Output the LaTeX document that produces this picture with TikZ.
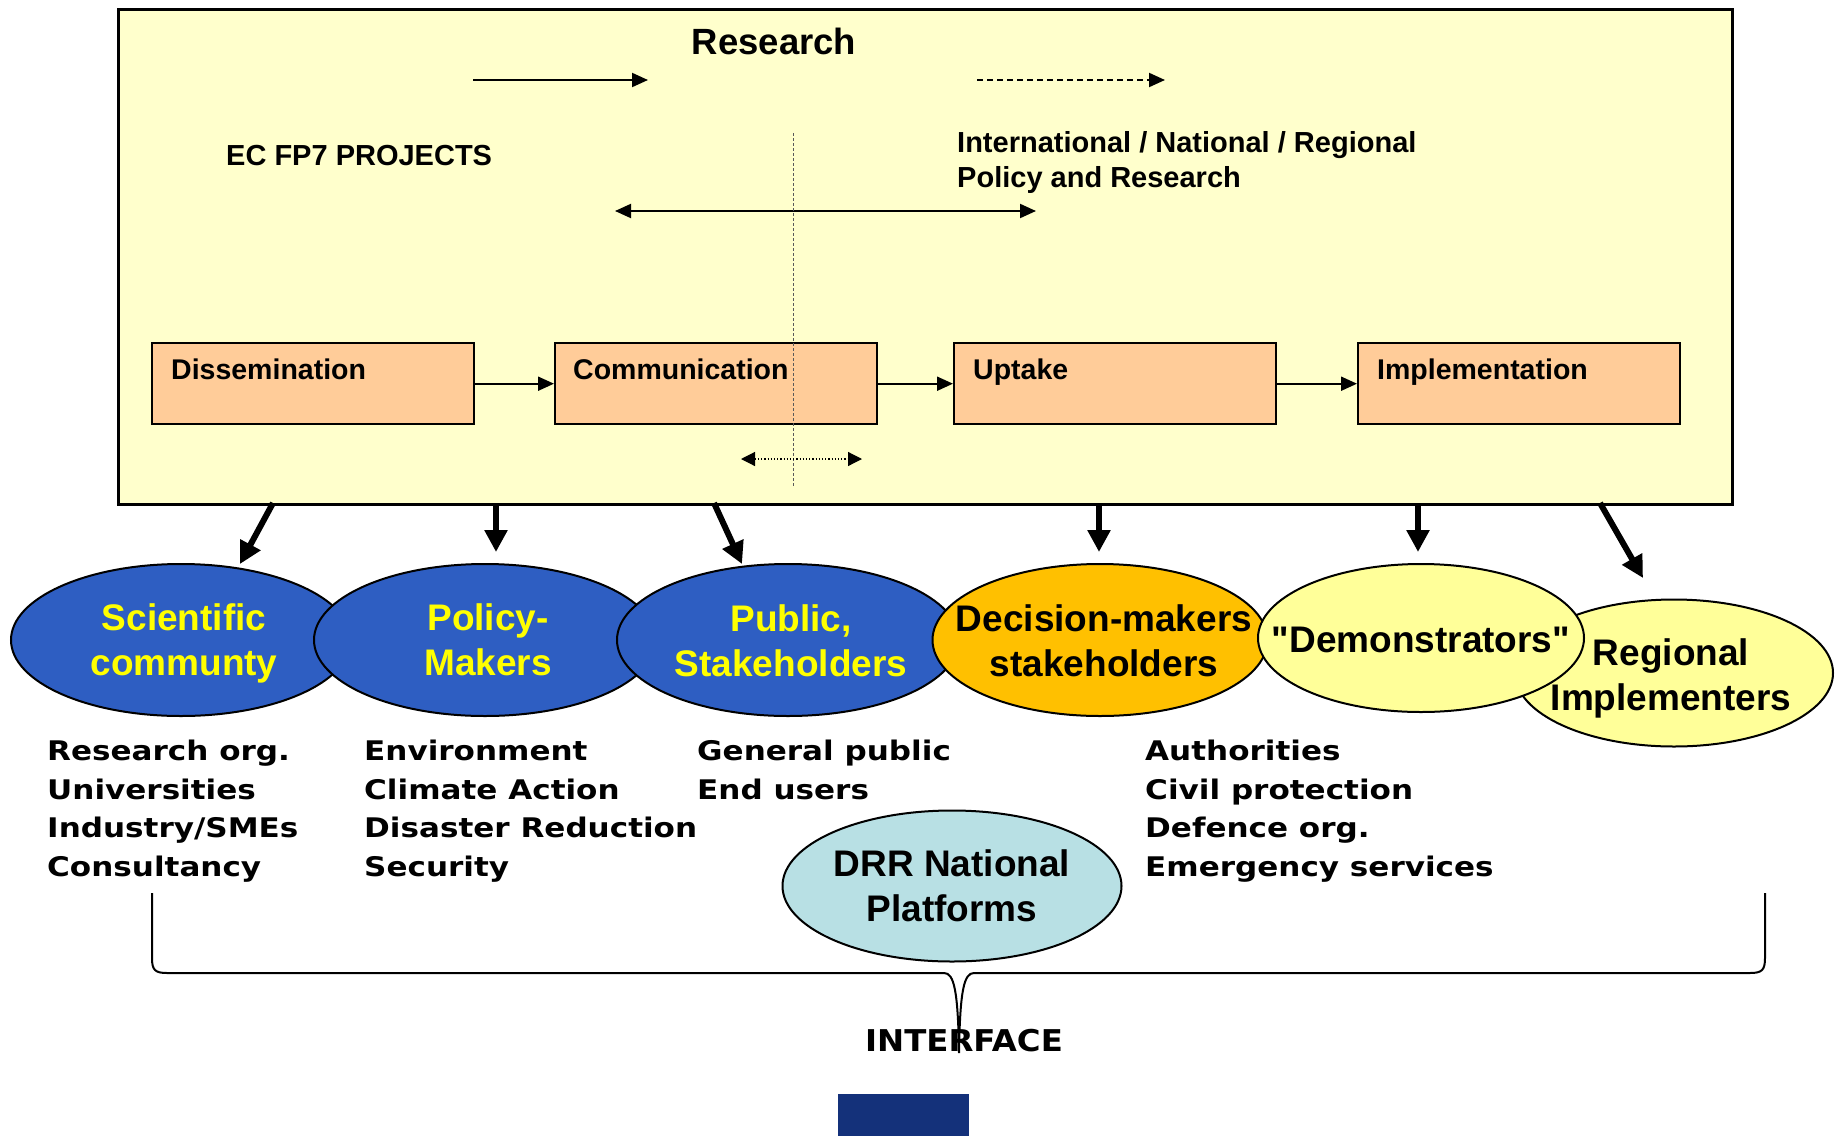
\documentclass[tikz,border=0pt]{standalone}
\usepackage{fontspec}
\setmainfont{Liberation Sans}
\newfontfamily\demofont{Liberation Sans}[Ligatures=TeXOff]
\newfontfamily\listfont{DejaVu Sans}[FakeStretch=1.15]
\newfontfamily\ifacefont{DejaVu Sans}[FakeStretch=1.08]
\usetikzlibrary{arrows.meta,shapes.geometric}
\definecolor{frameyellow}{RGB}{255,255,204}
\definecolor{boxorange}{RGB}{255,204,153}
\definecolor{ellblue}{RGB}{46,94,194}
\definecolor{ellorange}{RGB}{255,192,0}
\definecolor{elllight}{RGB}{255,255,153}
\definecolor{drrcyan}{RGB}{184,224,228}
\definecolor{navyblock}{RGB}{20,49,122}
\definecolor{txtyellow}{RGB}{255,255,0}
\begin{document}
\begin{tikzpicture}[x=1pt,y=-1pt,
  stagebox/.style={draw=black,line width=2.4pt,fill=boxorange,minimum width=322pt,minimum height=81pt,inner sep=0pt,anchor=north west},
  stagelabel/.style={anchor=base west,inner sep=0pt,font=\fontsize{28.5}{34}\selectfont\bfseries},
  headtext/.style={anchor=base west,inner sep=0pt,align=left,font=\fontsize{29}{35}\selectfont\bfseries},
  thinarrow/.style={line width=2pt,-{Triangle[length=16pt,width=14pt]}},
  thickarrow/.style={line width=6pt,-{Triangle[length=22pt,width=22pt]}},
  group/.style={ellipse,draw=black,line width=2pt,inner sep=0pt},
  grouptext/.style={inner sep=0pt,align=center,font=\fontsize{37}{45}\selectfont\bfseries},
  listtext/.style={anchor=north west,inner sep=0pt,align=left,font=\listfont\fontsize{27}{38.5}\selectfont\bfseries},
]
\useasboundingbox (0,0) rectangle (1836,1135);

% outer frame
\node[draw=black,fill=frameyellow,line width=2.5pt,minimum width=1614pt,minimum height=495pt,anchor=north west,inner sep=0pt] (frame) at (117,8) {};

% header texts
\node[anchor=base,inner sep=0pt,font=\fontsize{36.5}{40}\selectfont\bfseries] (research) at (774,54) {Research};
\node[headtext] (ecfp) at (226,165) {EC FP7 PROJECTS};
\node[headtext] (intl) at (957,187) {International / National / Regional\\Policy and Research};

% header arrows
\coordinate (ra1) at (473,80);
\coordinate (ra2) at (648,80);
\coordinate (rb1) at (977,80);
\coordinate (rb2) at (1165,80);
\coordinate (rc1) at (615,211);
\coordinate (rc2) at (1036,211);
\draw[thinarrow] (ra1) -- (ra2);
\draw[thinarrow,dash pattern=on 6pt off 4pt] (rb1) -- (rb2);
\draw[line width=2pt,{Triangle[length=16pt,width=14pt]}-{Triangle[length=16pt,width=14pt]}] (rc1) -- (rc2);

% stage boxes
\node[stagebox] (diss) at (151,342) {};
\node[stagebox] (comm) at (554,342) {};
\node[stagebox] (upt) at (953,342) {};
\node[stagebox] (impl) at (1357,342) {};
\node[stagelabel] (dissl) at (171,379) {Dissemination};
\node[stagelabel] (comml) at (573,379) {Communication};
\node[stagelabel] (uptl) at (973,379) {Uptake};
\node[stagelabel] (impll) at (1377,379) {Implementation};
\draw[thinarrow] (diss.east) -- (comm.west);
\draw[thinarrow] (comm.east) -- (upt.west);
\draw[thinarrow] (upt.east) -- (impl.west);

% dotted guides
\coordinate (vt) at (793,133);
\coordinate (vb) at (793,487);
\draw[gray!70!black,line width=0.9pt,dash pattern=on 3pt off 2pt] (vt) -- (vb);
\coordinate (da1) at (741,459);
\coordinate (da2) at (862,459);
\draw[line width=1.2pt,dotted,{Triangle[length=14pt,width=14pt]}-{Triangle[length=14pt,width=14pt]}] (da1) -- (da2);

% thick arrows
\coordinate (s1) at (273,503); \coordinate (e1) at (240,564);
\coordinate (s2) at (496,503); \coordinate (e2) at (496,552);
\coordinate (s3) at (714,503); \coordinate (e3) at (742,564);
\coordinate (s4) at (1099,503); \coordinate (e4) at (1099,552);
\coordinate (s5) at (1418,503); \coordinate (e5) at (1418,552);
\coordinate (s6) at (1600,503); \coordinate (e6) at (1643,578);
\foreach \i in {1,...,6} {\draw[thickarrow] (s\i) -- (e\i);}

% group ellipses
\node[group,fill=ellblue,minimum width=340pt,minimum height=152pt] (sci) at (181,640) {};
\node[group,fill=ellblue,minimum width=342pt,minimum height=152pt] (pol) at (485,640) {};
\node[group,fill=ellblue,minimum width=342pt,minimum height=152pt] (pub) at (788,640) {};
\node[group,fill=ellorange,minimum width=335pt,minimum height=152pt] (dec) at (1100,640) {};
\node[group,fill=elllight,minimum width=318pt,minimum height=147pt] (reg) at (1674,673) {};
\node[group,fill=elllight,minimum width=326pt,minimum height=148pt] (dem) at (1421,638) {};
\node[grouptext,text=txtyellow] (scit) at (184,643) {Scientific\\communty};
\node[grouptext,text=txtyellow] (polt) at (488,640) {Policy-\\Makers};
\node[grouptext,text=txtyellow] (pubt) at (791,641) {Public,\\Stakeholders};
\node[grouptext] (dect) at (1104,641) {Decision-makers\\stakeholders};
\node[grouptext] (demt) at (1421,640) {\demofont "Demonstrators"};
\node[grouptext] (regt) at (1671,678) {Regional\\Implementers};

% lists
\node[listtext] (l1) at (47,740) {Research org.\\Universities\\Industry/SMEs\\Consultancy};
\node[listtext] (l2) at (364,740) {Environment\\Climate Action\\Disaster Reduction\\Security};
\node[listtext] (l3) at (697,740) {General public\\End users};
\node[listtext] (l4) at (1145,740) {Authorities\\Civil protection\\Defence org.\\Emergency services};

% DRR
\node[group,fill=drrcyan,minimum width=339pt,minimum height=151pt] (drr) at (952,886) {};
\node[grouptext] (drrt) at (952,886) {DRR National\\Platforms};

% interface
\node[anchor=base,inner sep=0pt,font=\ifacefont\fontsize{30}{34}\selectfont\bfseries] (iface) at (964,1051) {INTERFACE};
\coordinate (bl) at (152,893);
\coordinate (br) at (1765,893);
\draw[line width=2pt] (bl) -- (152,958) .. controls (152,970) and (155,973) .. (167,973) -- (944,973) .. controls (954,973) and (958,990) .. (959,1053) .. controls (960,990) and (964,973) .. (974,973) -- (1750,973) .. controls (1762,973) and (1765,970) .. (1765,958) -- (br);

% bottom block
\node[fill=navyblock,minimum width=131pt,minimum height=42pt,anchor=north west,inner sep=0pt] (block) at (838,1094) {};
\end{tikzpicture}
\end{document}
